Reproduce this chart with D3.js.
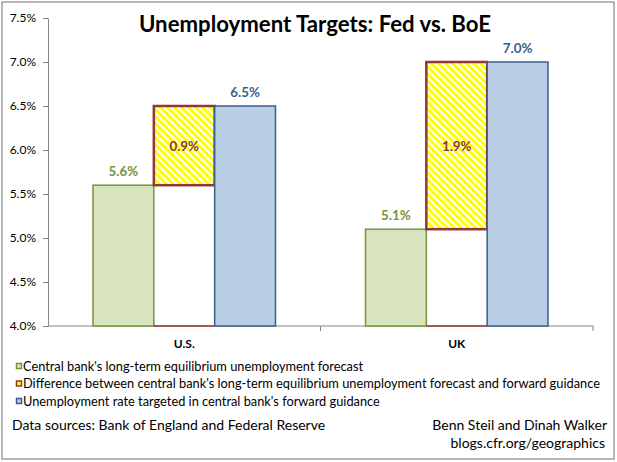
<!DOCTYPE html>
<html>
<head>
<meta charset="utf-8">
<script src="https://cdn.jsdelivr.net/npm/d3@7"></script>
<style>
  body { margin: 0; background: #fff; }
  svg text { font-family: Lato, "Open Sans", sans-serif; }
</style>
</head>
<body>
<svg id="chart" width="617" height="462"></svg>
<script>
let categories = ["U.S.", "UK"];
let equilibrium = [5.6, 5.1];
let difference = [0.9, 1.9];
let target = [6.5, 7.0];
let yTicks = [4.0, 4.5, 5.0, 5.5, 6.0, 6.5, 7.0, 7.5];
let legendLabels = [
    "Central bank's long-term equilibrium unemployment forecast",
    "Difference between central bank's long-term equilibrium unemployment forecast and forward guidance",
    "Unemployment rate targeted in central bank's forward guidance"
];

let colors = {
    green: "#d7e4bd", greenLine: "#77933c", greenText: "#76923c",
    red: "#953735", redText: "#943634",
    blue: "#b9cde5", blueLine: "#385d8a", blueText: "#376092",
    axis: "#868686"
};

let svg = d3.select("#chart");
let width = +svg.attr("width");
let height = +svg.attr("height");

// outer frame
svg.append("rect")
    .attr("x", 2).attr("y", 2)
    .attr("width", 612).attr("height", 457)
    .attr("fill", "#fff").attr("stroke", "#a0a0a0").attr("stroke-width", 1.5);

// hatch pattern for the difference bar
let defs = svg.append("defs");
let pat = defs.append("pattern")
    .attr("id", "hatch")
    .attr("patternUnits", "userSpaceOnUse")
    .attr("width", 5).attr("height", 5)
    .attr("patternTransform", "rotate(-45)");
pat.append("rect").attr("width", 5).attr("height", 5).attr("fill", "#ffff00");
pat.append("rect").attr("x", 0).attr("width", 2).attr("height", 5).attr("fill", "#fff");

let margin = {left: 48, right: 24, top: 18, bottom: 136};
let x = d3.scaleBand()
    .domain(categories)
    .range([margin.left, width - margin.right]);
let inner = d3.scaleBand()
    .domain(["eq", "diff", "target"])
    .range([0, x.bandwidth()])
    .paddingInner(0)
    .paddingOuter(0.74);
let y = d3.scaleLinear()
    .domain([4.0, 7.5])
    .range([height - margin.bottom, margin.top]);

// y axis
let yAxis = svg.append("g")
    .attr("transform", `translate(${margin.left},0)`)
    .call(d3.axisLeft(y).tickValues(yTicks).tickFormat(d => d.toFixed(1) + "%").tickSize(5).tickSizeOuter(0));
yAxis.select(".domain").attr("stroke", colors.axis);
yAxis.selectAll(".tick line").attr("stroke", colors.axis);
yAxis.selectAll(".tick text")
    .attr("x", -12)
    .attr("fill", "#000")
    .style("font-size", "12px");

// x axis
let xAxis = svg.append("g")
    .attr("transform", `translate(0,${y(4.0)})`);
xAxis.append("line")
    .attr("x1", margin.left).attr("x2", width - margin.right)
    .attr("stroke", colors.axis);
xAxis.selectAll(".sep")
    .data([margin.left + x.bandwidth(), width - margin.right])
    .enter().append("line")
    .attr("class", "sep")
    .attr("x1", d => d).attr("x2", d => d)
    .attr("y1", 0).attr("y2", 5)
    .attr("stroke", colors.axis);
xAxis.selectAll(".cat")
    .data(categories)
    .enter().append("text")
    .attr("x", d => x(d) + x.bandwidth() / 2)
    .attr("y", 22)
    .attr("text-anchor", "middle")
    .style("font-size", "12px")
    .style("font-weight", "bold")
    .text(d => d);

// bars
let groups = svg.selectAll(".cat-group")
    .data(categories)
    .enter().append("g")
    .attr("class", "cat-group")
    .attr("transform", d => `translate(${x(d)},0)`);

groups.append("rect")
    .attr("x", inner("eq"))
    .attr("y", (d, i) => y(equilibrium[i]))
    .attr("width", inner.bandwidth())
    .attr("height", (d, i) => y(4.0) - y(equilibrium[i]))
    .attr("fill", colors.green)
    .attr("stroke", colors.greenLine)
    .attr("stroke-width", 1.5);

// invisible base of the stacked column, only its bottom edge shows
groups.append("line")
    .attr("x1", inner("diff"))
    .attr("x2", inner("diff") + inner.bandwidth())
    .attr("y1", y(4.0)).attr("y2", y(4.0))
    .attr("stroke", colors.red)
    .attr("stroke-width", 1.5);

groups.append("rect")
    .attr("x", inner("diff"))
    .attr("y", (d, i) => y(equilibrium[i] + difference[i]))
    .attr("width", inner.bandwidth())
    .attr("height", (d, i) => y(equilibrium[i]) - y(equilibrium[i] + difference[i]))
    .attr("fill", "url(#hatch)")
    .attr("stroke", colors.red)
    .attr("stroke-width", 2.5);

groups.append("rect")
    .attr("x", inner("target"))
    .attr("y", (d, i) => y(target[i]))
    .attr("width", inner.bandwidth())
    .attr("height", (d, i) => y(4.0) - y(target[i]))
    .attr("fill", colors.blue)
    .attr("stroke", colors.blueLine)
    .attr("stroke-width", 1.5);

// data labels
let labelStyle = sel => sel
    .attr("text-anchor", "middle")
    .style("font-size", "13.4px")
    .style("font-weight", "bold");

groups.append("text")
    .attr("x", inner("eq") + inner.bandwidth() / 2)
    .attr("y", (d, i) => y(equilibrium[i]) - 9)
    .attr("fill", colors.greenText)
    .call(labelStyle)
    .text((d, i) => equilibrium[i].toFixed(1) + "%");

groups.append("text")
    .attr("x", inner("diff") + inner.bandwidth() / 2)
    .attr("y", (d, i) => y(equilibrium[i] + difference[i] / 2) + 5)
    .attr("fill", colors.redText)
    .call(labelStyle)
    .text((d, i) => difference[i].toFixed(1) + "%");

groups.append("text")
    .attr("x", inner("target") + inner.bandwidth() / 2)
    .attr("y", (d, i) => y(target[i]) - 9)
    .attr("fill", colors.blueText)
    .call(labelStyle)
    .text((d, i) => target[i].toFixed(1) + "%");

// title
svg.append("text")
    .attr("x", 315)
    .attr("y", 32)
    .attr("text-anchor", "middle")
    .style("font-size", "22.2px")
    .style("font-weight", "bold")
    .text("Unemployment Targets: Fed vs. BoE");

// legend
let legendFills = [colors.green, "#ffff00", colors.blue];
let legendLines = [colors.greenLine, colors.red, colors.blueLine];
let legend = svg.selectAll(".legend")
    .data(legendLabels)
    .enter().append("g")
    .attr("class", "legend")
    .attr("transform", (d, i) => `translate(16,${370.5 + i * 17.5})`);
legend.append("rect")
    .attr("x", 0.5).attr("y", -7)
    .attr("width", 5).attr("height", 5)
    .attr("fill", (d, i) => legendFills[i])
    .attr("stroke", (d, i) => legendLines[i])
    .attr("stroke-width", 1.5);
legend.append("text")
    .attr("x", 7)
    .attr("y", 0)
    .style("font-size", "12.8px")
    .text(d => d);

// footer
svg.append("text")
    .attr("x", 12).attr("y", 429.5)
    .style("font-size", "14px")
    .text("Data sources: Bank of England and Federal Reserve");
svg.append("text")
    .attr("x", 607).attr("y", 429.5)
    .attr("text-anchor", "end")
    .style("font-size", "14px")
    .text("Benn Steil and Dinah Walker");
svg.append("text")
    .attr("x", 605).attr("y", 447.5)
    .attr("text-anchor", "end")
    .style("font-size", "14px")
    .text("blogs.cfr.org/geographics");
</script>
</body>
</html>
